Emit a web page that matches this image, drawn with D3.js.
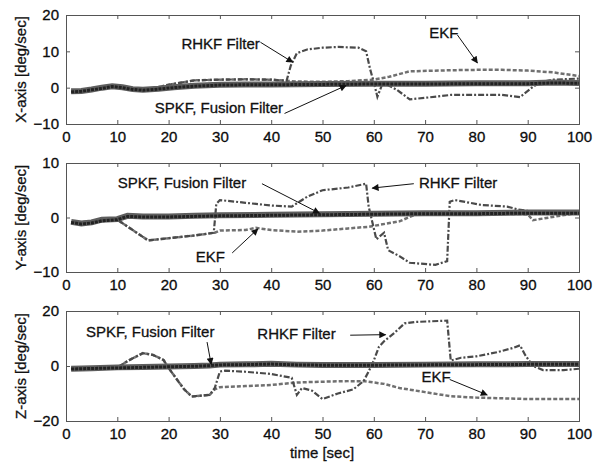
<!DOCTYPE html>
<html>
<head>
<meta charset="utf-8">
<script src="https://cdn.jsdelivr.net/npm/d3@7"></script>
<style>
  body { margin: 0; background: #fff; }
  text { font-family: Arial, "Liberation Sans", sans-serif; fill: #111; }
</style>
</head>
<body>
<div id="chart"></div>
<script>

// ---- data (time [sec], rate [deg/sec]) ----

// X-axis panel
var xSpkfT   = [1, 3, 5, 7, 9, 11, 13, 15, 18, 21, 25, 30, 35, 40, 50, 60, 70, 80, 90, 95, 100];
var xSpkfV   = [-1.2, -1.0, -0.6, -0.2, 0.3, 0, -0.5, -0.7, -0.4, 0, 0.4, 0.7, 0.8, 0.8, 0.9, 1, 1, 1.1, 1.1, 1.3, 1.2];
var xFusionV = [-1.0, -0.9, -0.5, 0, 0.4, 0.1, -0.4, -0.6, -0.3, 0.1, 0.5, 0.8, 0.9, 0.9, 1, 1.1, 1.1, 1.2, 1.2, 1.4, 1.3];
var xEkfT    = [1, 5, 9, 13, 17, 20, 25, 30, 35, 40, 45, 50, 55, 60, 63, 67, 75, 80, 85, 90, 95, 100];
var xEkfV    = [-1, -0.5, 0.4, -0.3, -0.2, 0.8, 2, 2.2, 2.3, 2.2, 1.7, 1.6, 1.8, 2.2, 3, 4.5, 4.8, 4.9, 4.9, 4.7, 4.2, 3.2];
var xRhkfT   = [1, 5, 9, 13, 17, 20, 25, 30, 35, 40, 43, 43.8, 45, 47, 50, 53, 57, 58.5, 59.3, 60,
                60.7, 61.8, 63, 64.5, 67, 70, 75, 80, 85, 88.5, 91, 92.5, 95, 100];
var xRhkfV   = [-1, -0.5, 0.4, -0.3, -0.2, 0.8, 2, 2.2, 2.3, 2.2, 1.9, 6, 9.5, 10.5, 11, 11.2, 11, 10, 5, 1.5,
                -2.5, 1.5, 0.5, -0.6, -3.2, -2.8, -2, -2, -2, -2.6, 0.2, 1.5, 2.2, 2.5];

// Y-axis panel
var ySpkfT   = [1, 3, 5, 7, 10, 12, 15, 20, 25, 30, 40, 50, 60, 70, 80, 90, 100];
var ySpkfV   = [-0.9, -1.2, -1, -0.6, -0.4, 0.2, 0.1, 0.1, 0.2, 0.3, 0.4, 0.5, 0.6, 0.7, 0.7, 0.8, 0.8];
var yFusionV = [-0.8, -1.1, -0.9, -0.4, -0.3, 0.3, 0.2, 0.2, 0.3, 0.4, 0.5, 0.6, 0.7, 0.8, 0.8, 0.9, 0.9];
var yEkfT    = [1, 5, 10, 13, 16, 20, 25, 29, 30, 35, 37, 40, 45, 50, 55, 59, 65, 68, 75, 80, 90, 91, 100];
var yEkfV    = [-0.9, -0.8, -0.4, -2.3, -4.2, -3.8, -3.3, -2.8, -2.4, -2.3, -1.9, -2.3, -2.6, -2.4, -2, -1.7, -0.7, 0.5, 0.7, 0.8, 0.6, -0.5, 0.9];
var yRhkfT   = [1, 5, 10, 13, 16, 20, 25, 28.8, 29.3, 30, 35, 40, 44, 47, 50, 55, 58.5, 59, 60.5, 62,
                62.8, 65, 67, 72, 74.3, 74.8, 75.8, 81, 86, 88, 90, 95, 100];
var yRhkfV   = [-0.9, -0.8, -0.4, -2.3, -4.2, -3.8, -3.3, -2.8, 2.5, 3.2, 2.7, 2.2, 2, 3.8, 5, 5.5, 6.2, 2, -4, -2.8,
                -6, -7.1, -8.3, -8.7, -8, 2.9, 3.2, 2.3, 2, 1.5, 1.2, 1, 1];

// Z-axis panel
var zSpkfT   = [1, 5, 10, 15, 20, 25, 28, 30, 35, 40, 45, 50, 60, 70, 80, 90, 100];
var zSpkfV   = [-1.1, -0.9, -0.7, -0.5, -0.3, -0.1, 0.1, 0.4, 0.5, 0.7, 0.4, 0.3, 0.3, 0.4, 0.5, 0.6, 0.6];
var zFusionV = [-1, -0.8, -0.5, -0.4, -0.2, 0, 0.2, 0.5, 0.6, 0.8, 0.5, 0.4, 0.4, 0.5, 0.6, 0.7, 0.7];
var zEkfT    = [1, 5, 10, 12, 15, 17, 19, 20, 21, 23, 24.5, 28, 29, 30, 35, 40, 45, 50, 55, 58, 62, 65, 70, 75, 80, 90, 100];
var zEkfV    = [-1, -0.8, -0.6, 1.8, 4.7, 4, 2.2, -0.7, -3.3, -8.4, -11.1, -10.5, -8.5, -7.7, -7.3, -6.9, -6, -5.7, -5.5, -5.5,
                -6.5, -8, -9.5, -11, -11.5, -12, -12];
var zRhkfT   = [1, 5, 10, 12, 15, 17, 19, 20, 21, 23, 24.5, 28, 29, 30, 31, 35, 40, 44, 45, 46,
                48, 50, 53, 56, 58, 59, 60, 61, 62, 64, 66, 68, 74.3, 75, 77, 80, 84, 87, 88.5, 89.5,
                91, 93, 97, 100];
var zRhkfV   = [-1, -0.8, -0.6, 1.8, 4.7, 4, 2.2, -0.7, -3.3, -8.4, -11.1, -10.5, -8, -2, -1.7, -2.1, -2.9, -4.3, -10.5, -8,
                -9, -12, -10, -8.5, -5.5, -2, 2, 7, 9, 12, 15.5, 16, 16.5, 2, 3, 3.5, 5, 6.5, 7.5, 4,
                0, -1.5, -1.5, -1];

// axis ticks
var timeTicks = [0, 10, 20, 30, 40, 50, 60, 70, 80, 90, 100];

// panels: label, y range, y ticks, series and annotations (text + arrow in data units)
var panels = [
  { label: "X-axis [deg/sec]", top: 15, bottom: 124, domain: [-10, 20], ticks: [-10, 0, 10, 20],
    spkf: [xSpkfT, xSpkfV], fusion: [xSpkfT, xFusionV], ekf: [xEkfT, xEkfV], rhkf: [xRhkfT, xRhkfV],
    notes: [
      { text: "RHKF Filter", tx: 22.5, ty: 12.2, from: [37.9, 12.5], to: [44.2, 7.0] },
      { text: "SPKF, Fusion Filter", tx: 17.3, ty: -5.5, from: [42.6, -7.1], to: [54.6, 0.6] },
      { text: "EKF", tx: 70.8, ty: 15.1, from: [76.3, 14.5], to: [80.2, 6.8] }
    ] },
  { label: "Y-axis [deg/sec]", top: 163, bottom: 272, domain: [-10, 10], ticks: [-10, 0, 10],
    spkf: [ySpkfT, ySpkfV], fusion: [ySpkfT, yFusionV], ekf: [yEkfT, yEkfV], rhkf: [yRhkfT, yRhkfV],
    notes: [
      { text: "SPKF, Fusion Filter", tx: 10.1, ty: 6.4, from: [38.2, 6.2], to: [49.4, 0.8] },
      { text: "EKF", tx: 25.3, ty: -7.2, from: [32.4, -6.5], to: [37.4, -2.1] },
      { text: "RHKF Filter", tx: 68.8, ty: 6.4, from: [67.8, 6.2], to: [59.7, 5.4] }
    ] },
  { label: "Z-axis [deg/sec]", top: 311, bottom: 421, domain: [-20, 20], ticks: [-20, 0, 20],
    spkf: [zSpkfT, zSpkfV], fusion: [zSpkfT, zFusionV], ekf: [zEkfT, zEkfV], rhkf: [zRhkfT, zRhkfV],
    notes: [
      { text: "SPKF, Fusion Filter", tx: 3.9, ty: 12.3, from: [27.5, 8.7], to: [28.3, 0.6] },
      { text: "RHKF Filter", tx: 37.3, ty: 11.9, from: [55.4, 11.2], to: [62.3, 11.4] },
      { text: "EKF", tx: 69.3, ty: -3.8, from: [74.8, -4.9], to: [82.1, -10.5] }
    ] }
];

// ---- svg ----
var W = 605, H = 466;
var svg = d3.select("#chart").append("svg")
    .attr("width", W)
    .attr("height", H);

// arrowhead marker
svg.append("defs").append("marker")
    .attr("id", "arrow")
    .attr("viewBox", "0 0 10 10")
    .attr("refX", 9)
    .attr("refY", 5)
    .attr("markerWidth", 10)
    .attr("markerHeight", 7)
    .attr("markerUnits", "userSpaceOnUse")
    .attr("orient", "auto")
  .append("path")
    .attr("d", "M0,0 L10,5 L0,10 z")
    .attr("fill", "#111");

var x = d3.scaleLinear().domain([0, 100]).range([66, 579]);

function toPoints(s) {
  return s[0].map(function(t, i) { return [t, s[1][i]]; });
}

panels.forEach(function(p, k) {
  var y = d3.scaleLinear().domain(p.domain).range([p.bottom, p.top]);
  var g = svg.append("g");

  var line = d3.line()
    .x(function(d) { return x(d[0]); })
    .y(function(d) { return y(d[1]); });

  // clip so that lines stay inside the box
  g.append("clipPath").attr("id", "clip" + k)
    .append("rect")
      .attr("x", x(0)).attr("y", p.top)
      .attr("width", x(100) - x(0)).attr("height", p.bottom - p.top);

  var plot = g.append("g").attr("clip-path", "url(#clip" + k + ")");

  // EKF (dashed) and RHKF (dash-dot)
  plot.append("path")
    .datum(toPoints(p.ekf))
    .attr("d", line)
    .attr("fill", "none")
    .attr("stroke", "#707070")
    .attr("stroke-width", 2.5)
    .attr("stroke-dasharray", "4,2");

  plot.append("path")
    .datum(toPoints(p.rhkf))
    .attr("d", line)
    .attr("fill", "none")
    .attr("stroke", "#4a4a4a")
    .attr("stroke-width", 2.2)
    .attr("stroke-dasharray", "6,2,2,2");

  // Fusion + SPKF thick band
  plot.append("path")
    .datum(toPoints(p.fusion))
    .attr("d", line)
    .attr("fill", "none")
    .attr("stroke", "#5e5e5e")
    .attr("stroke-width", 6);

  plot.append("path")
    .datum(toPoints(p.spkf))
    .attr("d", line)
    .attr("fill", "none")
    .attr("stroke", "#222")
    .attr("stroke-width", 3)
    .attr("stroke-dasharray", "3,1");

  // axes
  g.append("g")
    .attr("transform", "translate(0," + p.bottom + ")")
    .call(d3.axisBottom(x).tickValues(timeTicks).tickSize(-4).tickPadding(7));

  g.append("g")
    .attr("transform", "translate(0," + p.top + ")")
    .call(d3.axisTop(x).tickValues(timeTicks).tickSize(-4).tickFormat(""));

  g.append("g")
    .attr("transform", "translate(" + x(0) + ",0)")
    .call(d3.axisLeft(y).tickValues(p.ticks).tickSize(-4).tickPadding(7));

  g.append("g")
    .attr("transform", "translate(" + x(100) + ",0)")
    .call(d3.axisRight(y).tickValues(p.ticks).tickSize(-4).tickFormat(""));

  g.selectAll(".domain").attr("stroke", "#555");
  g.selectAll(".tick line").attr("stroke", "#555");
  g.selectAll(".tick text")
    .attr("font-size", "15px")
    .attr("font-family", "Arial, 'Liberation Sans', sans-serif")
    .attr("fill", "#000")
    .attr("stroke", "#000")
    .attr("stroke-width", 0.3);

  // y label
  g.append("text")
    .attr("transform", "translate(26," + ((p.top + p.bottom) / 2) + ") rotate(-90)")
    .attr("text-anchor", "middle")
    .attr("font-size", "15px")
    .attr("stroke", "#111")
    .attr("stroke-width", 0.3)
    .text(p.label);

  // annotations
  p.notes.forEach(function(n) {
    g.append("text")
      .attr("x", x(n.tx))
      .attr("y", y(n.ty))
      .attr("dy", "0.35em")
      .attr("font-size", "15px")
      .attr("stroke", "#111")
      .attr("stroke-width", 0.3)
      .text(n.text);
    g.append("line")
      .attr("x1", x(n.from[0])).attr("y1", y(n.from[1]))
      .attr("x2", x(n.to[0])).attr("y2", y(n.to[1]))
      .attr("stroke", "#111")
      .attr("stroke-width", 1)
      .attr("marker-end", "url(#arrow)");
  });
});

// x label
svg.append("text")
    .attr("x", 322)
    .attr("y", 458)
    .attr("text-anchor", "middle")
    .attr("font-size", "15px")
    .attr("stroke", "#111")
    .attr("stroke-width", 0.3)
    .text("time [sec]");

</script>
</body>
</html>
